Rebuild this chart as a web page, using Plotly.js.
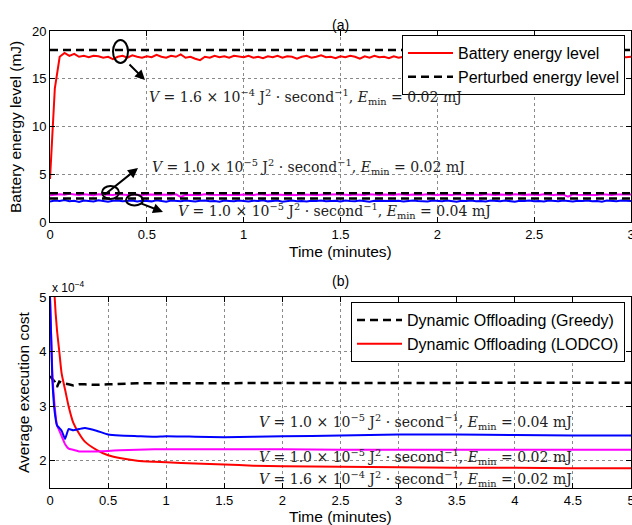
<!DOCTYPE html>
<html><head><meta charset="utf-8">
<script src="https://cdn.plot.ly/plotly-3.0.1.min.js"></script>
<style>body{margin:0;background:#fff}#chart{width:632px;height:525px}</style>
</head><body><div id="chart"></div>
<script>
// ---------- (a) battery energy level, time in minutes ----------
const timeA = [0,0.025,0.05,0.075,0.1,0.125,0.15,0.175,0.2,0.225,0.25,0.275,0.3,0.325,0.35,0.375,0.4,0.425,0.45,0.475,
0.5,0.525,0.55,0.575,0.6,0.625,0.65,0.675,0.7,0.725,0.75,0.775,0.8,0.825,0.85,0.875,0.9,0.925,0.95,0.975,
1,1.025,1.05,1.075,1.1,1.125,1.15,1.175,1.2,1.225,1.25,1.275,1.3,1.325,1.35,1.375,1.4,1.425,1.45,1.475,
1.5,1.525,1.55,1.575,1.6,1.625,1.65,1.675,1.7,1.725,1.75,1.775,1.8,1.825,1.85,1.875,1.9,1.925,1.95,1.975,
2,2.025,2.05,2.075,2.1,2.125,2.15,2.175,2.2,2.225,2.25,2.275,2.3,2.325,2.35,2.375,2.4,2.425,2.45,2.475,
2.5,2.525,2.55,2.575,2.6,2.625,2.65,2.675,2.7,2.725,2.75,2.775,2.8,2.825,2.85,2.875,2.9,2.925,2.95,2.975,3];
const energyV16 = [4.5,14.0,17.3,17.7,17.4,17.6,17.3,17.4,17.25,17.4,17.35,17.2,17.3,17.05,17.3,17.4,17.2,17.45,17.3,17.2,
17.35,17.25,17.5,17.3,17.2,17.4,17.3,17.55,17.2,17.3,17.1,16.95,17.3,17.2,17.4,17.25,17.35,17.2,17.4,17.3,
17.25,17.4,17.2,17.3,17.15,17.35,17.25,17.4,17.2,17.35,17.3,17.1,17.3,17.4,17.2,17.3,17.45,17.25,17.3,17.15,
17.35,17.25,17.4,17.3,17.1,17.35,17.2,17.4,17.25,17.3,17.15,17.35,17.2,17.3,17.4,17.25,17.3,17.2,17.35,17.25,
17.3,17.2,17.4,17.25,17.3,17.15,17.35,17.2,17.3,17.4,17.25,17.3,17.2,17.35,17.25,17.3,17.15,17.35,17.2,17.3,
17.25,17.4,17.2,17.3,17.15,17.35,17.25,17.3,17.2,17.35,17.25,17.3,17.4,17.2,17.3,17.25,17.35,17.2,17.3,17.25,17.3];
const energyV10E02 = [2.8,2.85,2.9,2.85,2.95,2.88,2.82,2.9,2.86,2.8,2.9,2.85,2.88,2.82,2.9,2.86,2.84,2.9,2.85,2.8,
2.88,2.86,2.9,2.83,2.87,2.85,2.9,2.62,2.85,2.88,2.84,2.82,2.9,2.86,2.85,2.88,2.83,2.9,2.86,2.84,
2.88,2.85,2.82,2.9,2.86,2.83,2.88,2.85,2.9,2.84,2.86,2.82,2.88,2.85,2.9,2.83,2.86,2.88,2.84,2.85,
2.9,2.86,2.82,2.88,2.85,2.83,2.9,2.86,2.84,2.88,2.85,2.82,2.9,2.86,2.84,2.88,2.83,2.86,2.9,2.85,
2.84,2.88,2.86,2.82,2.9,2.85,2.83,2.88,2.86,2.84,2.9,2.85,2.82,2.88,2.86,2.84,2.9,2.85,2.83,2.88,
2.86,2.84,2.9,2.85,2.82,2.88,2.86,2.65,2.9,2.85,2.84,2.88,2.86,2.83,2.9,2.85,2.84,2.88,2.86,2.85,2.88];
const energyV10E04 = [2.15,2.25,2.2,2.3,2.18,2.22,2.1,2.25,2.2,2.15,2.28,2.2,2.12,2.22,2.25,2.18,2.2,2.26,2.14,2.22,
2.2,2.16,2.27,2.2,2.12,2.24,2.2,2.17,2.25,2.2,2.14,2.22,2.26,2.18,2.2,2.12,2.24,2.2,2.17,2.26,
2.2,2.15,2.23,2.2,2.27,2.16,2.2,2.24,2.12,2.2,2.25,2.18,2.2,2.14,2.23,2.2,2.26,2.17,2.2,2.22,
2.15,2.24,2.2,2.18,2.26,2.2,2.13,2.22,2.2,2.25,2.17,2.2,2.23,2.15,2.2,2.26,2.19,2.2,2.14,2.24,
2.2,2.17,2.25,2.2,2.13,2.22,2.2,2.26,2.18,2.2,2.15,2.24,2.2,2.17,2.25,2.2,2.12,2.22,2.2,2.26,
2.18,2.2,2.14,2.24,2.2,2.17,2.25,2.2,2.15,2.22,2.2,2.26,2.18,2.2,2.13,2.24,2.2,2.17,2.25,2.2,2.2];
const perturbedT = [0,3];
const perturbedV16 = [18,18];
const perturbedV10E02 = [3.0,3.0];
const perturbedV10E04 = [2.45,2.45];
const ticksA_x = [0,0.5,1,1.5,2,2.5,3];
const ticksA_y = [0,5,10,15,20];

// ---------- (b) average execution cost (x 1e-4) ----------
const timeB = [0,0.02,0.04,0.06,0.08,0.1,0.13,0.16,0.2,0.25,0.3,0.4,0.5,0.6,0.75,0.9,1,1.25,1.5,1.75,2,2.5,3,3.5,4,4.5,5];
const costGreedy = [3.55,3.5,3.45,3.35,3.45,3.43,3.42,3.4,3.38,3.4,3.4,3.39,3.4,3.41,3.42,3.42,3.42,3.42,3.42,3.42,3.42,3.42,3.42,3.43,3.43,3.43,3.43];
const costLodcoV16 = [8.0,6.5,5.0,4.4,4.0,3.6,3.3,3.0,2.7,2.5,2.35,2.2,2.1,2.05,2.0,1.98,1.97,1.95,1.93,1.91,1.9,1.89,1.88,1.87,1.87,1.86,1.86];
const costLodcoV10E02 = [5.0,3.6,3.0,2.65,2.55,2.45,2.3,2.22,2.2,2.17,2.17,2.17,2.18,2.19,2.2,2.21,2.21,2.21,2.21,2.21,2.21,2.2,2.2,2.2,2.2,2.2,2.2];
const costLodcoV10E04 = [5.0,3.5,2.9,2.65,2.6,2.55,2.4,2.58,2.56,2.58,2.6,2.55,2.48,2.46,2.45,2.44,2.45,2.44,2.43,2.44,2.45,2.46,2.48,2.48,2.47,2.46,2.46];
const ticksB_x = [0,0.5,1,1.5,2,2.5,3,3.5,4,4.5,5];
const ticksB_y = [2,3,4,5];

// ---------- layout helpers (pixel -> paper) ----------
const W = 632, H = 525, ML = 50, MR = 1;
const PW = W - ML - MR;
const X = px => (px - ML) / PW;
const Y = py => 1 - py / H;

const sans = 'Liberation Sans, Arial, sans-serif';
const serif = 'DejaVu Serif, serif';
const dash = '8px,5px';

const traces = [
  {x: timeA, y: energyV16, type:'scatter', mode:'lines', name:'Battery energy level', line:{color:'#ff0000', width:2}, xaxis:'x', yaxis:'y', legend:'legend'},
  {x: perturbedT, y: perturbedV16, type:'scatter', mode:'lines', name:'Perturbed energy level', line:{color:'#000', width:2.5, dash:dash}, xaxis:'x', yaxis:'y', legend:'legend'},
  {x: timeA, y: energyV10E02, type:'scatter', mode:'lines', showlegend:false, line:{color:'#ff00ff', width:2}, xaxis:'x', yaxis:'y'},
  {x: timeA, y: energyV10E04, type:'scatter', mode:'lines', showlegend:false, line:{color:'#0000ff', width:2}, xaxis:'x', yaxis:'y'},
  {x: perturbedT, y: perturbedV10E02, type:'scatter', mode:'lines', showlegend:false, line:{color:'#000', width:2.5, dash:dash}, xaxis:'x', yaxis:'y'},
  {x: perturbedT, y: perturbedV10E04, type:'scatter', mode:'lines', showlegend:false, line:{color:'#000', width:2.5, dash:dash}, xaxis:'x', yaxis:'y'},

  {x: timeB, y: costGreedy, type:'scatter', mode:'lines', name:'Dynamic Offloading (Greedy)', line:{color:'#000', width:2.5, dash:dash}, xaxis:'x2', yaxis:'y2', legend:'legend2'},
  {x: timeB, y: costLodcoV16, type:'scatter', mode:'lines', name:'Dynamic Offloading (LODCO)', line:{color:'#ff0000', width:2, shape:'spline', smoothing:0.6}, xaxis:'x2', yaxis:'y2', legend:'legend2'},
  {x: timeB, y: costLodcoV10E02, type:'scatter', mode:'lines', showlegend:false, line:{color:'#ff00ff', width:2, shape:'spline', smoothing:0.4}, xaxis:'x2', yaxis:'y2'},
  {x: timeB, y: costLodcoV10E04, type:'scatter', mode:'lines', showlegend:false, line:{color:'#0000ff', width:2, shape:'spline', smoothing:0.4}, xaxis:'x2', yaxis:'y2'}
];

const axBase = {
  showline:true, linecolor:'#000', linewidth:1, mirror:'ticks',
  ticks:'inside', ticklen:5, tickcolor:'#000', ticklabeloverflow:'allow',
  showgrid:true, gridcolor:'#8a8a8a', gridwidth:1, griddash:'dot',
  zeroline:false, tickfont:{family:sans, size:13, color:'#000'}
};

const vtxt = (v, e) => `<i>V</i> = ${v} J<sup>2</sup> · second<sup>−1</sup>, <i>E</i><sub>min</sub> = ${e} mJ`;

const annFont = {family: serif, size: 14, color:'#222'};
const P = (px, py) => ({x:X(px), y:Y(py), xref:'paper', yref:'paper'});
const ann = [
  Object.assign(P(340,15), {text:'(a)', showarrow:false, font:{family:sans, size:14, color:'#000'}}),
  Object.assign(P(340,281), {text:'(b)', showarrow:false, font:{family:sans, size:14, color:'#000'}}),
  Object.assign(P(340,251), {text:'Time (minutes)', showarrow:false, xanchor:'center', yanchor:'middle', font:{family:sans, size:15.5, color:'#000'}}),
  Object.assign(P(340,516), {text:'Time (minutes)', showarrow:false, xanchor:'center', yanchor:'middle', font:{family:sans, size:15.5, color:'#000'}}),
  Object.assign(P(16,127), {text:'Battery energy level (mJ)', showarrow:false, textangle:-90, xanchor:'center', yanchor:'middle', font:{family:sans, size:15.5, color:'#000'}}),
  Object.assign(P(23,392), {text:'Average execution cost', showarrow:false, textangle:-90, xanchor:'center', yanchor:'middle', font:{family:sans, size:15.5, color:'#000'}}),
  Object.assign(P(50,287), {text:'x 10<sup>−4</sup>', xanchor:'left', yanchor:'middle', showarrow:false, font:{family:sans, size:12, color:'#000'}}),

  Object.assign(P(147,97), {text:vtxt('1.6 × 10<sup>−4</sup>','0.02'), xanchor:'left', yanchor:'middle', showarrow:false, font:annFont}),
  Object.assign(P(150,167), {text:vtxt('1.0 × 10<sup>−5</sup>','0.02'), xanchor:'left', yanchor:'middle', showarrow:false, font:annFont}),
  Object.assign(P(176,211), {text:vtxt('1.0 × 10<sup>−5</sup>','0.04'), xanchor:'left', yanchor:'middle', showarrow:false, font:annFont}),

  Object.assign(P(257,422), {text:vtxt('1.0 × 10<sup>−5</sup>','0.04'), xanchor:'left', yanchor:'middle', showarrow:false, font:annFont}),
  Object.assign(P(257,457), {text:vtxt('1.0 × 10<sup>−5</sup>','0.02'), xanchor:'left', yanchor:'middle', showarrow:false, font:annFont}),
  Object.assign(P(257,479), {text:vtxt('1.6 × 10<sup>−4</sup>','0.02'), xanchor:'left', yanchor:'middle', showarrow:false, font:annFont})
];
// arrows: [headX, headY, tailX, tailY]
const arrows = [[145,80,128,63],[138,168,103,196],[163,212,140,203]];
arrows.forEach(a => ann.push(Object.assign(P(a[0],a[1]), {text:'', ax:a[2]-a[0], ay:a[3]-a[1], showarrow:true, arrowhead:2, arrowsize:1, arrowwidth:2, arrowcolor:'#000'})));

// ellipses: [cx, cy, rx, ry]
const ellipses = [[120.5,51.5,7.5,11.5],[110.5,192.5,8.5,6.5],[134.5,200,8.5,5.5]];
const shapes = ellipses.map(e => ({type:'circle', xref:'paper', yref:'paper', x0:X(e[0]-e[2]), x1:X(e[0]+e[2]), y0:Y(e[1]+e[3]), y1:Y(e[1]-e[3]), line:{color:'#000', width:2}}));

const legBase = {bgcolor:'#fff', bordercolor:'#000', borderwidth:1, font:{family:sans, size:16, color:'#000'}, xanchor:'right', yanchor:'top', tracegroupgap:0, itemwidth:45};

const layout = {
  width:W, height:H, margin:{l:ML, r:MR, t:0, b:0},
  paper_bgcolor:'#fff', plot_bgcolor:'#fff', showlegend:true,
  xaxis: Object.assign({}, axBase, {domain:[0,1], range:[0,3], tickvals:ticksA_x, ticktext:ticksA_x.map(String), anchor:'y'}),
  yaxis: Object.assign({}, axBase, {domain:[Y(222), Y(31)], range:[0,20], tickvals:ticksA_y, anchor:'x'}),
  xaxis2: Object.assign({}, axBase, {domain:[0,1], range:[0,5], tickvals:ticksB_x, ticktext:ticksB_x.map(String), anchor:'y2'}),
  yaxis2: Object.assign({}, axBase, {domain:[Y(488), Y(297)], range:[1.5,5], tickvals:ticksB_y, anchor:'x2'}),
  legend: Object.assign({}, legBase, {x:X(625), y:Y(35)}),
  legend2: Object.assign({}, legBase, {x:X(625), y:Y(302)}),
  annotations: ann, shapes: shapes
};

Plotly.newPlot('chart', traces, layout, {displayModeBar:false, staticPlot:true});
</script></body></html>
